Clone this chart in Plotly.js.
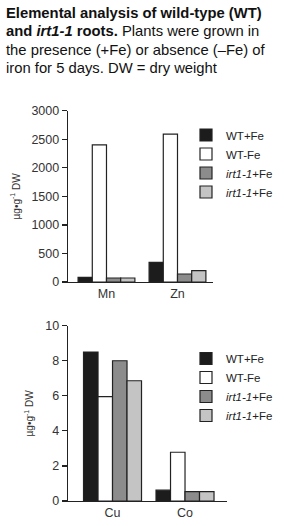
<!DOCTYPE html>
<html>
<head>
<meta charset="utf-8">
<script src="https://cdn.plot.ly/plotly-3.0.1.min.js"></script>
<style>html,body{margin:0;padding:0;background:#fff;}#chart{width:285px;height:526px;}</style>
</head>
<body>
<div id="chart"></div>
<script>
// ---- data ----
const categoriesTop = ['Mn', 'Zn'];
const categoriesBottom = ['Cu', 'Co'];
const seriesNames = ['WT+Fe', 'WT-Fe', '<i>irt1-1</i>+Fe', '<i>irt1-1</i>+Fe'];
const seriesColors = ['#1c1c1c', '#ffffff', '#8c8c8c', '#c4c4c4'];
// µg·g-1 DW, Mn and Zn
const wtPlusFeTop = [80, 345];
const wtMinusFeTop = [2400, 2590];
const irtPlusFeTop = [70, 140];
const irtMinusFeTop = [70, 200];
// µg·g-1 DW, Cu and Co
const wtPlusFeBottom = [8.5, 0.62];
const wtMinusFeBottom = [5.95, 2.78];
const irtPlusFeBottom = [8.0, 0.53];
const irtMinusFeBottom = [6.86, 0.53];
const yTicksTop = [0, 500, 1000, 1500, 2000, 2500, 3000];
const yTicksBottom = [0, 2, 4, 6, 8, 10];
const titleLines = [
  '<b>Elemental analysis of wild-type (WT)</b>',
  '<b>and <i>irt1-1</i> roots.</b> Plants were grown in',
  'the presence (+Fe) or absence (–Fe) of',
  'iron for 5 days. DW = dry weight'
];

const topSeries = [wtPlusFeTop, wtMinusFeTop, irtPlusFeTop, irtMinusFeTop];
const bottomSeries = [wtPlusFeBottom, wtMinusFeBottom, irtPlusFeBottom, irtMinusFeBottom];

const FONT = 'Liberation Sans, Arial, sans-serif';
const traces = [];
topSeries.forEach((vals, i) => {
  traces.push({
    type: 'bar', x: categoriesTop, y: vals, name: seriesNames[i],
    xaxis: 'x', yaxis: 'y', legend: 'legend',
    marker: {color: seriesColors[i], line: {color: '#222', width: 1.2}}
  });
});
bottomSeries.forEach((vals, i) => {
  traces.push({
    type: 'bar', x: categoriesBottom, y: vals, name: seriesNames[i],
    xaxis: 'x2', yaxis: 'y2', legend: 'legend2',
    marker: {color: seriesColors[i], line: {color: '#222', width: 1.2}}
  });
});

const W = 285, H = 526;
const px = v => v / W;
const py = v => 1 - v / H;

const yAxisCommon = {
  showgrid: false, zeroline: false, showline: true, linecolor: '#222', linewidth: 1.3,
  ticks: 'outside', ticklen: 5, tickwidth: 1.2, tickcolor: '#222',
  tickfont: {family: FONT, size: 12.5, color: '#333'}, fixedrange: true,
  title: {text: 'µg•g<sup>-1</sup> DW', font: {family: FONT, size: 10, color: '#333'}, standoff: 9}
};
const xAxisCommon = {
  showgrid: false, zeroline: false, showline: true, linecolor: '#222', linewidth: 1.3,
  ticks: '', tickfont: {family: FONT, size: 12.5, color: '#333'}, fixedrange: true
};
const legendCommon = {
  font: {family: FONT, size: 11.5, color: '#222'}, bgcolor: 'rgba(0,0,0,0)',
  xanchor: 'left', yanchor: 'top', tracegroupgap: 0, itemwidth: 30, traceorder: 'normal'
};

const annotations = titleLines.map((t, i) => ({
  xref: 'paper', yref: 'paper', x: px(4), y: py(13 + i * 18.3), xanchor: 'left', yanchor: 'middle',
  align: 'left', showarrow: false,
  font: {family: FONT, size: 14.8, color: '#111'}, text: t
}));

const layout = {
  width: W, height: H,
  margin: {l: 0, r: 0, t: 0, b: 0},
  paper_bgcolor: '#fff', plot_bgcolor: '#fff',
  barmode: 'group', bargap: 0.2, bargroupgap: 0,
  showlegend: true,
  xaxis: Object.assign({}, xAxisCommon, {domain: [px(68), px(213)], range: [-0.542, 1.5], anchor: 'y'}),
  yaxis: Object.assign({}, yAxisCommon, {domain: [py(282), py(110.7)], range: [0, 3000], tickvals: yTicksTop, anchor: 'x'}),
  xaxis2: Object.assign({}, xAxisCommon, {domain: [px(68), px(227)], range: [-0.614, 1.579], anchor: 'y2'}),
  yaxis2: Object.assign({}, yAxisCommon, {domain: [py(501), py(325.7)], range: [0, 10], tickvals: yTicksBottom, anchor: 'x2'}),
  legend: Object.assign({}, legendCommon, {x: px(186), y: py(120.5)}),
  legend2: Object.assign({}, legendCommon, {x: px(186), y: py(344)}),
  annotations: annotations
};

Plotly.newPlot('chart', traces, layout, {displayModeBar: false, staticPlot: true});
</script>
</body>
</html>
